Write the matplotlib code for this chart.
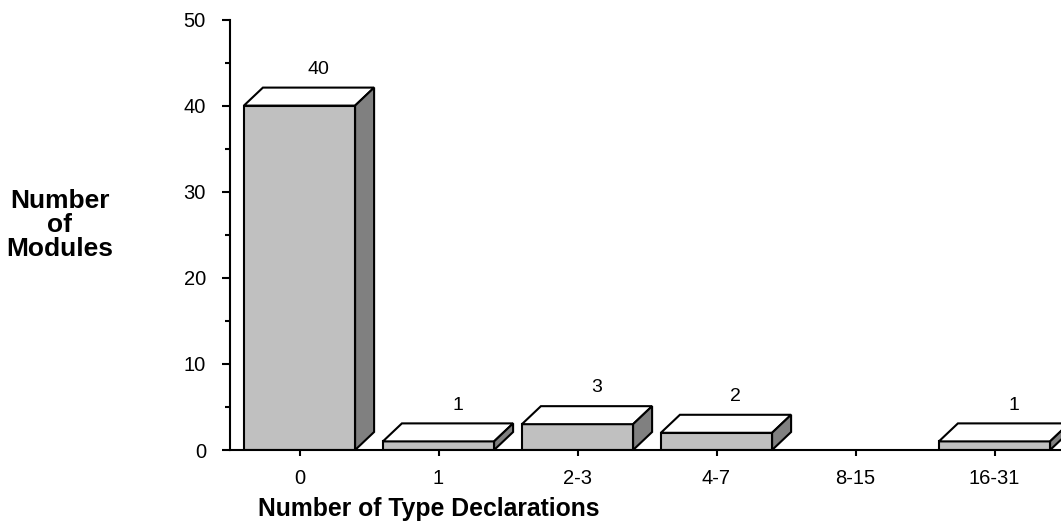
import matplotlib
matplotlib.use("Agg")
import matplotlib.pyplot as plt
from matplotlib.patches import Polygon

plt.rcParams['font.family'] = ['Liberation Sans', 'DejaVu Sans']

categories = ["0", "1", "2-3", "4-7", "8-15", "16-31"]
counts = [40, 1, 3, 2, 0, 1]
y_ticks = [0, 10, 20, 30, 40, 50]

front_color = "#c0c0c0"
side_color = "#808080"
top_color = "white"

fig = plt.figure(figsize=(10.61, 5.29), dpi=100)
ax = fig.add_axes([230 / 1061, 79 / 529, 831 / 1061, 430.5 / 529])
ax.set_xlim(-0.5, -0.5 + 831 / 139)
ax.set_ylim(0, 50)

# depth of the fake 3d boxes, in pixels -> data units
bb = ax.get_window_extent()
xmin, xmax = ax.get_xlim()
dx = 19 * (xmax - xmin) / bb.width
dy = 18 * 50 / bb.height

width = 0.8
lw = 1.5
for i, v in enumerate(counts):
    if v == 0:
        continue
    x0 = i - width / 2
    x1 = i + width / 2
    ax.bar(i, v, width=width, color=front_color, edgecolor="black",
           linewidth=lw, zorder=3)
    top = Polygon([(x0, v), (x1, v), (x1 + dx, v + dy), (x0 + dx, v + dy)],
                  closed=True, fc=top_color, ec="black", lw=lw, zorder=3,
                  joinstyle="miter")
    side = Polygon([(x1, 0), (x1 + dx, dy), (x1 + dx, v + dy), (x1, v)],
                   closed=True, fc=side_color, ec="black", lw=lw, zorder=3,
                   joinstyle="miter")
    ax.add_patch(top)
    ax.add_patch(side)
    ax.annotate(str(v), (i + dx, v + dy), xytext=(0, 7),
                textcoords="offset points", ha="center", va="bottom",
                fontsize=14)

ax.spines["top"].set_visible(False)
ax.spines["right"].set_visible(False)
for s in ["left", "bottom"]:
    ax.spines[s].set_linewidth(lw)
    ax.spines[s].set_zorder(4)

ax.set_xticks(range(len(categories)), categories)
ax.set_yticks(y_ticks)
ax.set_yticks(range(5, 50, 10), minor=True)
ax.tick_params(axis="x", direction="out", length=4.3, width=lw, labelsize=14.5, pad=9.4)
ax.tick_params(axis="y", which="major", direction="out", length=5.8, width=lw,
               labelsize=14.5, pad=11.5)
ax.tick_params(axis="y", which="minor", direction="out", length=3.6, width=lw)

ax.set_xlabel("Number of Type Declarations", fontsize=17.8, fontweight="bold")
ax.xaxis.set_label_coords(0.2395, -0.11)
ax.text(-0.2046, 0.5227, "Number\nof\nModules", transform=ax.transAxes,
        ha="center", va="center", multialignment="center",
        fontsize=19, fontweight="bold", linespacing=1.0)

fig.savefig("out.png", dpi=100)
